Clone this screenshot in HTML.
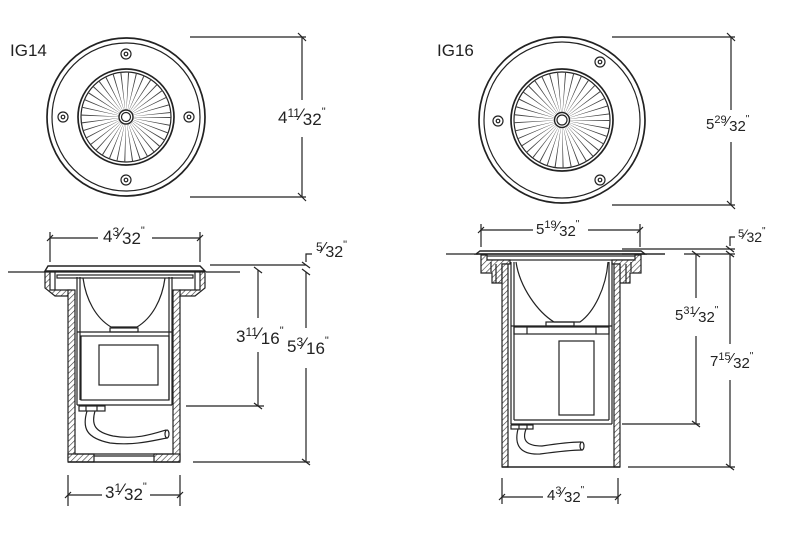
<!DOCTYPE html>
<html><head><meta charset="utf-8"><style>
html,body{margin:0;padding:0;background:#fff;}
svg{display:block;}
text{font-family:"Liberation Sans",sans-serif;fill:#222;}
</style></head><body>
<svg width="800" height="553" viewBox="0 0 800 553" xmlns="http://www.w3.org/2000/svg">
<defs>
<pattern id="h" width="4" height="4" patternUnits="userSpaceOnUse" patternTransform="rotate(45)">
<rect width="4" height="4" fill="#fff"/><line x1="0" y1="0" x2="0" y2="4" stroke="#333" stroke-width="1.2"/>
</pattern>
</defs>
<g fill="none" stroke="#222" stroke-width="1.2">
<!-- ===== IG14 top view ===== -->
<circle cx="126" cy="117" r="79" stroke-width="1.7"/>
<circle cx="126" cy="117" r="74"/>
<circle cx="126" cy="117" r="48" stroke-width="1.7"/>
<circle cx="126" cy="117" r="45"/>
<circle cx="126" cy="117" r="25" stroke-width="40" stroke-dasharray="0.6 3.8" stroke="#444"/>
<circle cx="126" cy="117" r="7" fill="#fff" stroke-width="1.4"/>
<circle cx="126" cy="117" r="4.5"/>
<g>
<circle cx="126" cy="54" r="5"/><circle cx="126" cy="54" r="1.8"/>
<circle cx="126" cy="180" r="5"/><circle cx="126" cy="180" r="1.8"/>
<circle cx="63" cy="117" r="5"/><circle cx="63" cy="117" r="1.8"/>
<circle cx="189" cy="117" r="5"/><circle cx="189" cy="117" r="1.8"/>
</g>
<line x1="190" y1="37" x2="306" y2="37"/>
<line x1="190" y1="197" x2="306" y2="197"/>
<line x1="302" y1="37" x2="302" y2="100"/>
<line x1="302" y1="137" x2="302" y2="197"/>
<line x1="298" y1="33" x2="306" y2="41"/>
<line x1="298" y1="193" x2="306" y2="201"/>

<!-- ===== IG16 top view ===== -->
<circle cx="562" cy="120" r="83" stroke-width="1.7"/>
<circle cx="562" cy="120" r="78"/>
<circle cx="562" cy="120" r="51" stroke-width="1.7"/>
<circle cx="562" cy="120" r="48"/>
<circle cx="562" cy="120" r="27" stroke-width="42" stroke-dasharray="0.6 4" stroke="#444"/>
<circle cx="562" cy="120" r="7.5" fill="#fff" stroke-width="1.4"/>
<circle cx="562" cy="120" r="5"/>
<circle cx="498" cy="121" r="5"/><circle cx="498" cy="121" r="1.8"/>
<circle cx="600" cy="62" r="5"/><circle cx="600" cy="62" r="1.8"/>
<circle cx="600" cy="180" r="5"/><circle cx="600" cy="180" r="1.8"/>
<line x1="612" y1="37" x2="735" y2="37"/>
<line x1="612" y1="205" x2="735" y2="205"/>
<line x1="731" y1="37" x2="731" y2="110"/>
<line x1="731" y1="142" x2="731" y2="205"/>
<line x1="727" y1="33" x2="735" y2="41"/>
<line x1="727" y1="201" x2="735" y2="209"/>

<!-- ===== IG14 side view ===== -->
<line x1="50" y1="238" x2="98" y2="238"/>
<line x1="152" y1="238" x2="200" y2="238"/>
<line x1="50" y1="232" x2="50" y2="262"/>
<line x1="200" y1="232" x2="200" y2="262"/>
<line x1="47" y1="241" x2="53" y2="235"/>
<line x1="197" y1="241" x2="203" y2="235"/>
<line x1="8" y1="272" x2="45" y2="272"/>
<line x1="206" y1="272" x2="240" y2="272"/>
<path d="M45 271 L48 266 L200 266 L205 271 Z" fill="#fff" stroke-width="1.4"/>
<line x1="45" y1="272" x2="205" y2="272"/>
<path d="M45 272 L50 272 L50 290 L70 290 L70 296 L55 296 L45 288 Z" fill="url(#h)"/>
<path d="M205 272 L200 272 L200 290 L180 290 L180 296 L195 296 L205 288 Z" fill="url(#h)"/>
<line x1="55" y1="272" x2="55" y2="290"/>
<line x1="195" y1="272" x2="195" y2="290"/>
<rect x="57" y="275" width="136" height="3"/>
<rect x="68" y="290" width="7" height="170" fill="url(#h)"/>
<rect x="173" y="290" width="7" height="170" fill="url(#h)"/>
<rect x="68" y="454" width="26" height="8" fill="url(#h)"/>
<rect x="154" y="454" width="26" height="8" fill="url(#h)"/>
<line x1="94" y1="456" x2="154" y2="456"/>
<line x1="68" y1="462" x2="180" y2="462" stroke-width="1.4"/>
<line x1="75" y1="454" x2="173" y2="454"/>
<line x1="77" y1="277" x2="77" y2="405"/>
<line x1="172" y1="277" x2="172" y2="405"/>
<line x1="77" y1="405" x2="172" y2="405"/>
<line x1="80" y1="277" x2="80" y2="400"/>
<line x1="169" y1="277" x2="169" y2="400"/>
<path d="M83 278 C86 300 96 318 111 327 L137 327 C152 318 162 300 165 278"/>
<rect x="110" y="328" width="28" height="4"/>
<line x1="77" y1="332" x2="172" y2="332"/>
<rect x="81" y="336" width="88" height="64"/>
<rect x="99" y="345" width="59" height="40"/>
<rect x="79" y="406" width="26" height="5"/>
<line x1="86" y1="406" x2="86" y2="411"/>
<line x1="97" y1="406" x2="97" y2="411"/>
<path d="M87 411 C82 428 86 438 110 443 C135 446 155 440 167 438"/>
<path d="M95 411 C91 425 95 432 113 436 C135 440 153 434 166 430"/>
<ellipse cx="167" cy="434" rx="2" ry="4"/>
<line x1="210" y1="265" x2="306" y2="265"/>
<line x1="186" y1="406" x2="264" y2="406"/>
<line x1="193" y1="462" x2="310" y2="462"/>
<line x1="258" y1="270" x2="258" y2="318"/>
<line x1="258" y1="352" x2="258" y2="406"/>
<line x1="254" y1="267" x2="262" y2="273"/>
<line x1="254" y1="403" x2="262" y2="409"/>
<line x1="306" y1="272" x2="306" y2="328"/>
<line x1="306" y1="368" x2="306" y2="462"/>
<line x1="302" y1="459" x2="310" y2="465"/>
<line x1="302" y1="262" x2="310" y2="268"/>
<line x1="302" y1="269" x2="310" y2="275"/>
<path d="M306 262 L306 254 L312 254"/>
<line x1="68" y1="475" x2="68" y2="506"/>
<line x1="180" y1="475" x2="180" y2="506"/>
<line x1="68" y1="495" x2="102" y2="495"/>
<line x1="150" y1="495" x2="180" y2="495"/>
<line x1="65" y1="498" x2="71" y2="492"/>
<line x1="177" y1="498" x2="183" y2="492"/>

<!-- ===== IG16 side view ===== -->
<line x1="481" y1="230" x2="533" y2="230"/>
<line x1="588" y1="230" x2="640" y2="230"/>
<line x1="481" y1="224" x2="481" y2="247"/>
<line x1="640" y1="224" x2="640" y2="247"/>
<line x1="478" y1="233" x2="484" y2="227"/>
<line x1="637" y1="233" x2="643" y2="227"/>
<line x1="446" y1="254" x2="478" y2="254"/>
<line x1="644" y1="254" x2="665" y2="254"/>
<path d="M476 254 L480 251 L641 251 L645 254 Z" fill="#fff" stroke-width="1.4"/>
<line x1="476" y1="254" x2="645" y2="254"/>
<rect x="485" y="256" width="153" height="4"/>
<path d="M481 255 L487 255 L487 260 L510 260 L510 264 L502 264 L502 283 L492 283 L492 273 L481 273 Z" fill="url(#h)"/>
<path d="M641 255 L635 255 L635 260 L612 260 L612 264 L620 264 L620 283 L630 283 L630 273 L641 273 Z" fill="url(#h)"/>
<line x1="491" y1="262" x2="491" y2="272"/>
<line x1="496" y1="264" x2="496" y2="283"/>
<line x1="626" y1="264" x2="626" y2="283"/>
<line x1="631" y1="262" x2="631" y2="272"/>
<rect x="502" y="264" width="6" height="203" fill="url(#h)"/>
<rect x="614" y="264" width="6" height="203" fill="url(#h)"/>
<line x1="502" y1="467" x2="620" y2="467" stroke-width="1.4"/>
<line x1="511" y1="262" x2="511" y2="424"/>
<line x1="612" y1="262" x2="612" y2="424"/>
<line x1="511" y1="424" x2="612" y2="424"/>
<line x1="514" y1="262" x2="514" y2="420"/>
<line x1="609" y1="262" x2="609" y2="420"/>
<line x1="514" y1="420" x2="609" y2="420"/>
<path d="M516 262 C520 288 538 312 554 322 L580 322 C594 312 606 288 608 262"/>
<rect x="546" y="322" width="28" height="4"/>
<line x1="511" y1="326" x2="612" y2="326"/>
<rect x="514" y="327" width="95" height="7"/>
<line x1="527" y1="327" x2="527" y2="334"/>
<line x1="596" y1="327" x2="596" y2="334"/>
<rect x="559" y="341" width="35" height="74"/>
<rect x="511" y="425" width="22" height="4"/>
<line x1="519" y1="425" x2="519" y2="429"/>
<line x1="527" y1="425" x2="527" y2="429"/>
<path d="M518 429 C514 445 520 455 540 454 C555 452 572 450 582 450"/>
<path d="M526 429 C522 440 526 446 542 446 C555 444 570 442 581 442"/>
<ellipse cx="582" cy="446" rx="2" ry="4"/>
<line x1="622" y1="249" x2="735" y2="249"/>
<line x1="622" y1="254" x2="665" y2="254"/>
<line x1="684" y1="254" x2="735" y2="254"/>
<line x1="622" y1="424" x2="700" y2="424"/>
<line x1="628" y1="467" x2="735" y2="467"/>
<line x1="696" y1="254" x2="696" y2="298"/>
<line x1="696" y1="336" x2="696" y2="424"/>
<line x1="692" y1="251" x2="700" y2="257"/>
<line x1="692" y1="421" x2="700" y2="427"/>
<line x1="730" y1="254" x2="730" y2="344"/>
<line x1="730" y1="380" x2="730" y2="467"/>
<line x1="726" y1="464" x2="734" y2="470"/>
<line x1="726" y1="246" x2="734" y2="252"/>
<line x1="726" y1="251" x2="734" y2="257"/>
<path d="M730 246 L730 237 L735 237"/>
<line x1="502" y1="478" x2="502" y2="504"/>
<line x1="618" y1="478" x2="618" y2="504"/>
<line x1="502" y1="497" x2="543" y2="497"/>
<line x1="587" y1="497" x2="618" y2="497"/>
<line x1="499" y1="500" x2="505" y2="494"/>
<line x1="615" y1="500" x2="621" y2="494"/>
</g>

<text x="10" y="56" font-size="17">IG14</text>
<text x="437" y="56" font-size="17">IG16</text>

<g font-size="17">
<text x="278" y="123">4<tspan font-size="12" dy="-6">11</tspan><tspan dy="3">⁄</tspan><tspan dy="5">32</tspan><tspan font-size="11" dy="-10">"</tspan></text>
<text x="706" y="129" font-size="15">5<tspan font-size="11" dy="-6">29</tspan><tspan dy="3">⁄</tspan><tspan dy="5">32</tspan><tspan font-size="10" dy="-9">"</tspan></text>

<text x="103" y="242">4<tspan font-size="12" dy="-6">3</tspan><tspan dy="3">⁄</tspan><tspan dy="5">32</tspan><tspan font-size="11" dy="-10">"</tspan></text>
<text x="316" y="255" font-size="16"><tspan font-size="12" dy="-4">5</tspan><tspan dy="2">⁄</tspan><tspan dy="4">32</tspan><tspan font-size="11" dy="-9">"</tspan></text>
<text x="236" y="342">3<tspan font-size="12" dy="-6">11</tspan><tspan dy="3">⁄</tspan><tspan dy="5">16</tspan><tspan font-size="11" dy="-10">"</tspan></text>
<text x="287" y="352">5<tspan font-size="12" dy="-6">3</tspan><tspan dy="3">⁄</tspan><tspan dy="5">16</tspan><tspan font-size="11" dy="-10">"</tspan></text>
<text x="105" y="498">3<tspan font-size="12" dy="-6">1</tspan><tspan dy="3">⁄</tspan><tspan dy="5">32</tspan><tspan font-size="11" dy="-10">"</tspan></text>

<text x="536" y="234" font-size="15">5<tspan font-size="11" dy="-6">19</tspan><tspan dy="3">⁄</tspan><tspan dy="5">32</tspan><tspan font-size="10" dy="-9">"</tspan></text>
<text x="738" y="240" font-size="14"><tspan font-size="11" dy="-3">5</tspan><tspan dy="2">⁄</tspan><tspan dy="3">32</tspan><tspan font-size="10" dy="-8">"</tspan></text>
<text x="675" y="320" font-size="15">5<tspan font-size="11" dy="-6">31</tspan><tspan dy="3">⁄</tspan><tspan dy="5">32</tspan><tspan font-size="10" dy="-9">"</tspan></text>
<text x="710" y="366" font-size="15">7<tspan font-size="11" dy="-6">15</tspan><tspan dy="3">⁄</tspan><tspan dy="5">32</tspan><tspan font-size="10" dy="-9">"</tspan></text>
<text x="547" y="500" font-size="15">4<tspan font-size="11" dy="-6">3</tspan><tspan dy="3">⁄</tspan><tspan dy="5">32</tspan><tspan font-size="10" dy="-9">"</tspan></text>
</g>
</svg>
</body></html>
